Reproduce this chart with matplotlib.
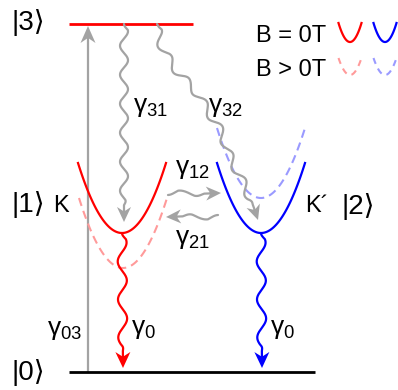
import numpy as np
import matplotlib
matplotlib.use("Agg")
import matplotlib.pyplot as plt

plt.rcParams['font.family'] = ['Liberation Sans', 'DejaVu Sans']
plt.rcParams['mathtext.fontset'] = 'custom'
plt.rcParams['mathtext.rm'] = 'Liberation Sans'
plt.rcParams['mathtext.it'] = 'Liberation Sans'
plt.rcParams['mathtext.bf'] = 'Liberation Sans:bold'

# energy levels (y, from bottom) and their x extent
level_names = ['0', '3']
level_y = [18, 366]
level_x0 = [69, 69]
level_x1 = [315, 193]
level_colors = ['black', 'red']

# valleys K / K'
valley_names = ['K', 'K´']
valley_x = [122, 261]
valley_min = [157, 157]
valley_shift = [-35, 35]          # shift of the valley for B > 0T
valley_colors = ['red', 'blue']
valley_light = ['#ff9a9a', '#9a9aff']
valley_halfwidth = 44
valley_depth = 70

# ket labels for valleys
ket_valley = ['1', '2']

# transitions (paths)
gamma31_path = [(124, 366), (124, 168)]
gamma32_path = [(157, 366), (160, 345), (177, 318), (197, 298), (210, 275), (220, 262),
                (230, 232), (243, 208), (256, 178), (258, 170)]
gamma12_path = [(168, 195), (221, 197)]
gamma21_path = [(218, 175), (166, 173)]
gamma03_x = 88

GRAY = '#a3a3a3'


def smooth_path(points, n=600, win=25):
    pts = np.array(points, float)
    seg = np.hypot(*np.diff(pts, axis=0).T)
    s = np.concatenate([[0], np.cumsum(seg)])
    t = np.linspace(0, s[-1], n)
    x = np.interp(t, s, pts[:, 0])
    y = np.interp(t, s, pts[:, 1])
    if len(pts) > 2:
        k = max(1, int(win / (s[-1] / n)))
        ker = np.ones(k) / k
        xp = np.concatenate([np.full(k, x[0]), x, np.full(k, x[-1])])
        yp = np.concatenate([np.full(k, y[0]), y, np.full(k, y[-1])])
        x = np.convolve(xp, ker, mode='same')[k:-k]
        y = np.convolve(yp, ker, mode='same')[k:-k]
        x[0], y[0], x[-1], y[-1] = pts[0, 0], pts[0, 1], pts[-1, 0], pts[-1, 1]
    return x, y


def arrow_head(ax, tip, u, color, length=14, width=12, notch=0.3):
    u = np.asarray(u, float)
    u = u / np.hypot(*u)
    nv = np.array([-u[1], u[0]])
    tip = np.asarray(tip, float)
    back = tip - u * length
    p1 = back + nv * width / 2
    p2 = back - nv * width / 2
    pn = tip - u * length * (1 - notch)
    poly = np.array([tip, p1, pn, p2])
    ax.fill(poly[:, 0], poly[:, 1], color=color, lw=0, zorder=4)
    return pn


def wavy_arrow(ax, points, color, amp=4, wl=27, lw=1.6, taper=6, hl=15, hw=14):
    x, y = smooth_path(points)
    d = np.concatenate([[0], np.cumsum(np.hypot(np.diff(x), np.diff(y)))])
    L = d[-1]
    dx = np.gradient(x)
    dy = np.gradient(y)
    nrm = np.hypot(dx, dy)
    nx, ny = -dy / nrm, dx / nrm
    env = np.clip(np.minimum(d, L - d - hl - 2) / taper, 0, 1)
    off = amp * env * np.sin(2 * np.pi * d / wl)
    xw, yw = x + nx * off, y + ny * off
    i_back = np.searchsorted(d, L - hl)
    u = (x[-1] - x[i_back], y[-1] - y[i_back])
    pn = arrow_head(ax, (x[-1], y[-1]), u, color, hl, hw)
    keep = d <= L - hl * 0.6
    ax.plot(np.append(xw[keep], pn[0]), np.append(yw[keep], pn[1]), color=color, lw=lw,
            solid_capstyle='round', solid_joinstyle='round', zorder=4)


def valley(ax, xc, ymin, hw, depth, **kw):
    xs = np.linspace(xc - hw, xc + hw, 120)
    ys = ymin + depth * ((xs - xc) / hw) ** 2
    ax.plot(xs, ys, **kw)


fig = plt.figure(figsize=(3.98, 3.90), dpi=100)
ax = fig.add_axes([0, 0, 1, 1])
ax.set_xlim(0, 398)
ax.set_ylim(0, 390)
ax.axis('off')

# pump arrow gamma03
pn = arrow_head(ax, (gamma03_x, level_y[1] - 2), (0, 1), GRAY, length=17, width=15)
ax.plot([gamma03_x, gamma03_x], [level_y[0], pn[1]], color=GRAY, lw=1.6)

# levels
for y, x0, x1, c in zip(level_y, level_x0, level_x1, level_colors):
    ax.plot([x0, x1], [y, y], color=c, lw=2.0, solid_capstyle='butt', zorder=3)

# valleys
for xc, ym, sh, c, cl in zip(valley_x, valley_min, valley_shift, valley_colors, valley_light):
    valley(ax, xc + (1 if sh < 0 else 0), ym + sh, valley_halfwidth, valley_depth,
           color=cl, lw=1.5, ls=(0, (4, 2.5)))
    valley(ax, xc, ym, valley_halfwidth, valley_depth, color=c, lw=1.6)

# radiative decays gamma0
for xc, ym, c in zip(valley_x, valley_min, valley_colors):
    wavy_arrow(ax, [(xc, ym), (xc + 1, level_y[0] + 4)], c, amp=4.5, wl=38, lw=1.6,
               hl=16, hw=15)

# relaxation paths
wavy_arrow(ax, gamma31_path, GRAY, amp=4, wl=29)
wavy_arrow(ax, gamma32_path, GRAY, amp=4, wl=29)
wavy_arrow(ax, gamma12_path, GRAY, amp=4, wl=46, taper=10)
wavy_arrow(ax, gamma21_path, GRAY, amp=4, wl=46, taper=10)

# labels
gfs = 19
ax.text(133, 278, r'$\gamma_{31}$', fontsize=gfs, va='baseline')
ax.text(208, 278, r'$\gamma_{32}$', fontsize=gfs, va='baseline')
ax.text(175, 216, r'$\gamma_{12}$', fontsize=gfs, va='baseline')
ax.text(175, 146, r'$\gamma_{21}$', fontsize=gfs, va='baseline')
ax.text(47, 55, r'$\gamma_{03}$', fontsize=gfs, va='baseline')
ax.text(131, 56, r'$\gamma_{0}$', fontsize=gfs, va='baseline')
ax.text(270, 56, r'$\gamma_{0}$', fontsize=gfs, va='baseline')

kfs = 20
ax.text(12, 368, '|' + level_names[1] + '⟩', fontsize=kfs, va='center')
ax.text(12, 185, '|' + ket_valley[0] + '⟩', fontsize=kfs, va='center')
ax.text(12, 18, '|' + level_names[0] + '⟩', fontsize=kfs, va='center')
ax.text(341, 184, '|' + ket_valley[1] + '⟩', fontsize=kfs, va='center')
ax.text(53, 184, valley_names[0], fontsize=17, va='center')
ax.text(305, 184, valley_names[1], fontsize=17, va='center')

# legend
ax.text(256, 348, 'B = 0T', fontsize=17, va='baseline')
ax.text(256, 314, 'B > 0T', fontsize=17, va='baseline')
for xc, c, cl in zip([350, 385], valley_colors, valley_light):
    valley(ax, xc, 348, 11.5, 19, color=c, lw=1.6)
    valley(ax, xc, 315, 11.5, 17, color=cl, lw=1.5, ls=(0, (3, 2.5)))

fig.savefig('out.png', dpi=100)
